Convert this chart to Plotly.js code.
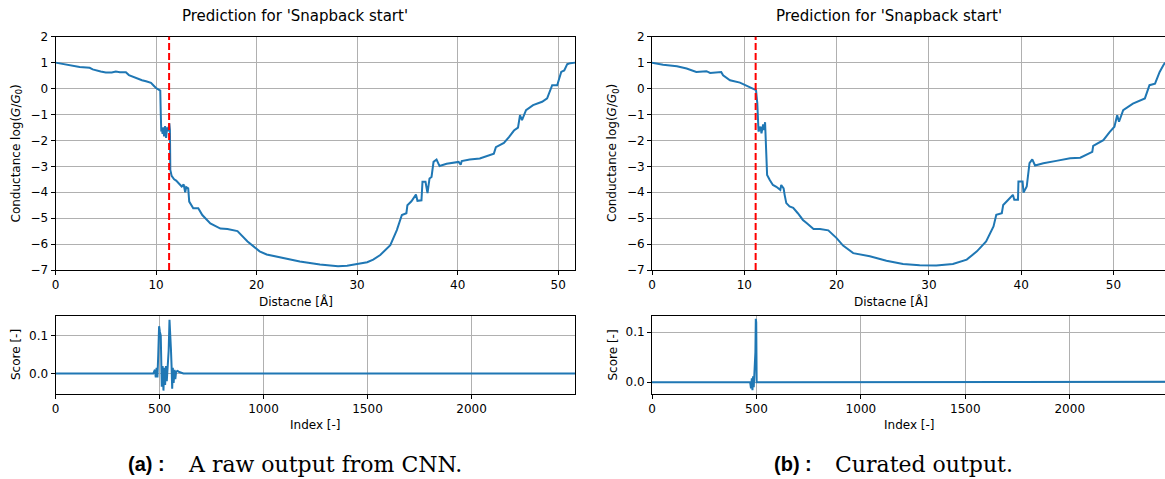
<!DOCTYPE html>
<html>
<head>
<meta charset="utf-8">
<script src="https://cdn.plot.ly/plotly-3.0.1.min.js"></script>
<style>html,body{margin:0;padding:0;background:#fff;}#chart{width:1165px;height:479px;}</style>
</head>
<body>
<div id="chart"></div>
<script>
// ---- (a) raw output: conductance trace ----
const distA = [0, 1.1, 2.4, 3.4, 3.7, 4.5, 5.0, 5.6, 6.0, 6.4, 7.0, 7.3, 7.6, 8.0, 8.6, 9.0, 9.5, 9.8, 10.0, 10.3, 10.42, 10.47, 10.52, 10.58, 10.65, 10.72, 10.8, 10.9, 11.0, 11.1, 11.2, 11.32, 11.38, 11.42, 11.55, 11.8, 12.0, 12.55, 12.75, 12.9, 13.0, 13.2, 13.3, 13.7, 14.2, 14.6, 15.4, 16.4, 17.1, 18.1, 19.1, 20.3, 21.0, 22.5, 24.3, 26.3, 28.1, 29.0, 30.0, 31.0, 31.6, 32.3, 33.3, 33.95, 34.45, 34.9, 35.0, 35.4, 35.85, 36.0, 36.4, 36.5, 36.8, 37.0, 37.2, 37.4, 37.6, 37.9, 38.2, 38.9, 40.1, 40.3, 40.4, 41.2, 42.2, 42.8, 43.6, 43.8, 44.6, 45.1, 45.6, 46.0, 46.2, 46.4, 46.8, 47.5, 48.4, 48.9, 49.3, 49.4, 49.9, 50.3, 50.6, 50.9, 51.2, 51.7];
const logGA = [1.0, 0.92, 0.83, 0.8, 0.74, 0.66, 0.62, 0.62, 0.66, 0.63, 0.63, 0.52, 0.47, 0.4, 0.32, 0.28, 0.22, 0.1, 0.02, -0.05, -0.08, -0.95, -1.66, -1.55, -1.75, -1.5, -1.85, -1.45, -1.9, -1.5, -1.65, -1.34, -1.6, -3.14, -3.37, -3.5, -3.55, -3.78, -3.7, -4.0, -3.8, -3.85, -4.36, -4.62, -4.62, -4.88, -5.2, -5.4, -5.42, -5.5, -5.9, -6.28, -6.4, -6.53, -6.67, -6.79, -6.86, -6.84, -6.77, -6.7, -6.6, -6.42, -6.04, -5.46, -4.88, -4.81, -4.5, -4.35, -4.09, -4.33, -4.31, -3.6, -3.6, -4.03, -3.47, -3.41, -2.83, -2.74, -2.99, -2.9, -2.83, -2.94, -2.8, -2.74, -2.7, -2.62, -2.51, -2.26, -2.1, -1.87, -1.62, -1.51, -1.03, -1.22, -0.83, -0.64, -0.51, -0.38, 0.0, 0.13, 0.13, 0.64, 0.7, 0.94, 0.98, 1.0];
const predA = 11.3;
// ---- (a) raw output: CNN score ----
const idxA = [0, 470, 478, 482, 486, 490, 494, 498, 502, 506, 511, 515, 519, 523, 527, 531, 535, 540, 544, 548, 551, 555, 558, 561, 564, 568, 572, 576, 580, 587, 595, 605, 615, 2499];
const scoreA = [0, 0, 0.01, -0.01, 0.015, -0.01, 0.05, 0.125, 0.11, 0.1, -0.035, 0.02, -0.045, 0.015, -0.03, 0.02, -0.02, 0.03, 0.06, 0.142, 0.08, 0.065, 0.02, -0.04, 0.015, -0.025, 0.01, -0.015, 0.005, 0.007, 0.004, 0.001, 0, 0];

// ---- (b) curated output: conductance trace ----
const distB = [0, 1.2, 2.7, 3.75, 4.8, 5.9, 6.3, 7.5, 7.7, 8.45, 9.53, 10.6, 11.27, 11.41, 11.5, 11.54, 11.75, 11.86, 12.04, 12.15, 12.25, 12.33, 12.4, 12.47, 12.76, 13.1, 13.47, 13.9, 14.0, 14.26, 14.37, 14.55, 14.9, 15.3, 15.8, 16.35, 16.75, 17.5, 18.2, 19.1, 20.0, 20.7, 21.8, 23.6, 25.4, 27.2, 29.0, 30.8, 32.6, 34.1, 35.2, 36.2, 37.0, 37.3, 37.9, 38.05, 38.6, 39.1, 39.25, 39.65, 39.7, 40.15, 40.25, 40.6, 40.9, 41.2, 41.5, 42.4, 43.8, 45.3, 46.4, 47.1, 47.7, 47.8, 48.9, 49.6, 50.1, 50.4, 50.6, 51.05, 52.1, 53.4, 53.75, 53.9, 54.5, 55.0, 55.4, 55.6];
const logGB = [1.0, 0.92, 0.86, 0.77, 0.64, 0.67, 0.6, 0.64, 0.51, 0.32, 0.23, 0.07, -0.06, -0.57, -1.4, -1.66, -1.47, -1.73, -1.38, -1.6, -1.3, -1.86, -2.5, -3.33, -3.53, -3.72, -3.79, -3.91, -3.72, -3.85, -4.1, -4.42, -4.55, -4.6, -4.81, -5.07, -5.19, -5.42, -5.42, -5.47, -5.77, -6.06, -6.35, -6.47, -6.64, -6.77, -6.82, -6.83, -6.77, -6.6, -6.28, -5.9, -5.32, -4.87, -4.81, -4.49, -4.29, -4.1, -4.29, -4.29, -3.59, -3.59, -4.01, -3.78, -2.88, -2.73, -2.97, -2.88, -2.79, -2.69, -2.67, -2.53, -2.44, -2.21, -1.99, -1.67, -1.47, -1.03, -1.28, -0.83, -0.58, -0.38, 0.0, 0.13, 0.19, 0.64, 0.9, 1.0];
const predB = 11.23;
// ---- (b) curated output: score ----
const idxB = [0, 340, 345, 370, 375, 470, 474, 478, 481, 484, 487, 490, 493, 495, 497, 499, 501, 503, 2340, 2345, 2450, 2456];
const scoreB = [0, 0, 0.001, 0.001, 0, 0, -0.012, 0.008, -0.016, 0.012, -0.01, 0.02, 0.025, 0.06, 0.127, 0.12, 0.0, 0, 0, 0.0015, 0.0015, 0.001];

// ---- text ----
const plotTitle = "Prediction for 'Snapback start'";
const xLabelTop = "Distacne [Å]";
const yLabelTop = "Conductance log(<i>G</i>/<i>G</i><sub>0</sub>)";
const xLabelBottom = "Index [-]";
const yLabelBottom = "Score [-]";
const tagA = "(a) :";
const captionA = "A raw output from CNN.";
const tagB = "(b) :";
const captionB = "Curated output.";

const W = 1165, H = 479;
const px = v => v / W;
const py = v => 1 - v / H;
const blue = '#1f77b4';
const font = 'DejaVu Sans';

function axisBase(extra) {
  return Object.assign({
    showline: true, linecolor: '#000', linewidth: 1, mirror: true,
    ticks: 'outside', ticklen: 4, tickwidth: 1, tickcolor: '#000',
    showgrid: true, gridcolor: '#b0b0b0', gridwidth: 1,
    zeroline: false, tickfont: {family: font, size: 12, color: '#000'},
    fixedrange: true
  }, extra);
}

const traces = [
  {x: distA, y: logGA, xaxis: 'x', yaxis: 'y', mode: 'lines', line: {color: blue, width: 2}, hoverinfo: 'skip'},
  {x: idxA, y: scoreA, xaxis: 'x3', yaxis: 'y3', mode: 'lines', line: {color: blue, width: 2}, hoverinfo: 'skip'},
  {x: distB, y: logGB, xaxis: 'x2', yaxis: 'y2', mode: 'lines', line: {color: blue, width: 2}, hoverinfo: 'skip'},
  {x: idxB, y: scoreB, xaxis: 'x4', yaxis: 'y4', mode: 'lines', line: {color: blue, width: 2}, hoverinfo: 'skip'}
];

const topY = [py(270), py(36.7)];
const botY = [py(394), py(316)];
const leftX = [px(55.5), px(575.3)];
const rightX = [px(652), 1];

const layout = {
  width: W, height: H,
  margin: {l: 0, r: 0, t: 0, b: 0},
  paper_bgcolor: '#fff', plot_bgcolor: '#fff',
  showlegend: false,
  font: {family: font, size: 12, color: '#000'},
  xaxis: axisBase({domain: leftX, anchor: 'y', range: [0, 51.7], dtick: 10, tick0: 0}),
  yaxis: axisBase({domain: topY, anchor: 'x', range: [-7, 2], dtick: 1}),
  xaxis2: axisBase({domain: rightX, anchor: 'y2', range: [0, 55.58], dtick: 10, tick0: 0}),
  yaxis2: axisBase({domain: topY, anchor: 'x2', range: [-7, 2], dtick: 1}),
  xaxis3: axisBase({domain: leftX, anchor: 'y3', range: [0, 2499], dtick: 500, tick0: 0}),
  yaxis3: axisBase({domain: botY, anchor: 'x3', range: [-0.054, 0.152], dtick: 0.1, tick0: 0, tickformat: '.1f'}),
  xaxis4: axisBase({domain: rightX, anchor: 'y4', range: [0, 2456], dtick: 500, tick0: 0}),
  yaxis4: axisBase({domain: botY, anchor: 'x4', range: [-0.0235, 0.1326], dtick: 0.1, tick0: 0, tickformat: '.1f'}),
  shapes: [
    {type: 'line', xref: 'x', yref: 'y domain', x0: predA, x1: predA, y0: 0, y1: 1, line: {color: 'red', width: 2, dash: '7px,3px'}},
    {type: 'line', xref: 'x2', yref: 'y2 domain', x0: predB, x1: predB, y0: 0, y1: 1, line: {color: 'red', width: 2, dash: '7px,3px'}}
  ],
  annotations: []
};

function ann(text, x, y, size, extra) {
  layout.annotations.push(Object.assign({
    text: text, xref: 'paper', yref: 'paper', x: px(x), y: py(y),
    xanchor: 'center', yanchor: 'middle', showarrow: false,
    font: {family: font, size: size, color: '#000'}
  }, extra || {}));
}

ann(plotTitle, 295, 16, 15);
ann(plotTitle, 889, 16, 15);
ann(xLabelTop, 296, 301, 12);
ann(xLabelTop, 891, 301, 12);
ann(yLabelTop, 16, 153.5, 12, {textangle: -90});
ann(yLabelTop, 612.5, 153.5, 12, {textangle: -90});
ann(xLabelBottom, 315, 425, 12);
ann(xLabelBottom, 909, 425, 12);
ann(yLabelBottom, 16, 355, 12, {textangle: -90});
ann(yLabelBottom, 612.5, 355, 12, {textangle: -90});
const tagFont = {family: 'Liberation Sans', size: 20, color: '#000', weight: 'bold'};
const capFont = {family: 'DejaVu Serif', size: 22, color: '#000'};
ann(tagA, 126, 464, 20, {xanchor: 'left', font: tagFont});
ann(captionA, 186, 464, 22, {xanchor: 'left', font: capFont});
ann(tagB, 772, 464, 20, {xanchor: 'left', font: tagFont});
ann(captionB, 833, 464, 22, {xanchor: 'left', font: capFont});

Plotly.newPlot('chart', traces, layout, {staticPlot: true, displayModeBar: false});
</script>
</body>
</html>
